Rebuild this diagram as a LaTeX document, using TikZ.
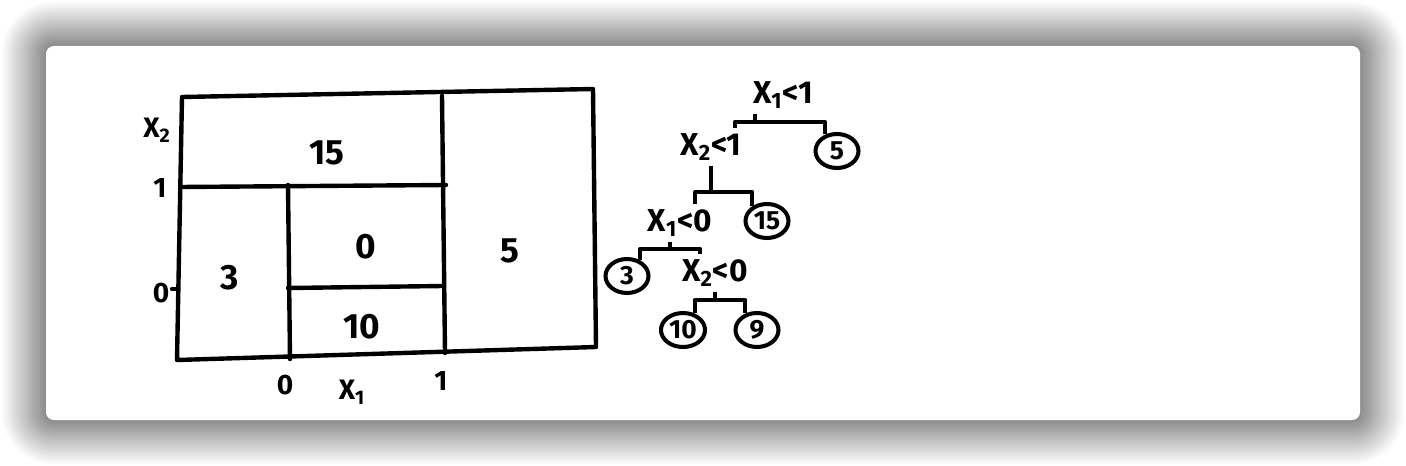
\documentclass[tikz,border=0pt]{standalone}
\usepackage{fontspec}
\setmainfont{Fira Sans}
\usepackage{tikz}
\usetikzlibrary{shapes.geometric, calc}

\begin{document}
\begin{tikzpicture}[
  x=0.02cm, y=-0.02cm,
  stroke/.style={line width=2.5pt, line cap=round, line join=round},
  region/.style={font=\bfseries\fontsize{20}{24}\selectfont},
  axis/.style={font=\bfseries\fontsize{16}{19}\selectfont},
  split/.style={inner sep=3pt, font=\bfseries\fontsize{18}{21}\selectfont},
  leaf/.style={ellipse, draw, line width=2.3pt, inner sep=1pt, minimum width=0.86cm, minimum height=0.68cm, font=\bfseries\fontsize{15}{17}\selectfont},
  link/.style={line width=2.3pt, line join=round}
]
  \useasboundingbox (0,0) rectangle (1406,466);
  % card with its shadow
  \fill[white] (0,0) rectangle (1406,466);
  \foreach \d in {46,44,...,0}{
    \pgfmathtruncatemacro\k{46-\d}
    \pgfmathsetmacro\r{4.5+0.567*\d}
    \fill[black!\k, rounded corners=\r pt] (46-\d,46-\d) rectangle (1360+\d,420+\d);
  }
  \fill[white, rounded corners=4.5pt] (46,46) rectangle (1360,420);

  % the partition of the plane
  \draw[stroke] (182,97) -- (593,89) -- (596,347) -- (177,360) -- cycle;
  \draw[stroke] (442,96) -- (445,353);
  \draw[stroke] (180,187) -- (446,185);
  \draw[stroke] (288,185) -- (290,359);
  \draw[stroke] (288,288) -- (443,286);
  \draw[stroke] (178,289) -- (172,289);

  \node[region] (r15) at (327,153) {15};
  \node[region] (r3) at (230,278) {3};
  \node[region] (r0) at (366,247) {0};
  \node[region] (r10) at (362,327) {10};
  \node[region] (r5) at (510,251) {5};

  \node[axis] (ax2) at (157,130) {X\textsubscript{2}};
  \node[axis] (ay1) at (160,188) {1};
  \node[axis] (ay0) at (161,293) {0};
  \node[axis] (ax0) at (285,385) {0};
  \node[axis] (ax1) at (352,392) {X\textsubscript{1}};
  \node[axis] (ax3) at (441,381) {1};

  % the tree
  \node[split] (s1) at (783,95) {X\textsubscript{1}<1};
  \node[split] (s2) at (711,147) {X\textsubscript{2}<1};
  \node[leaf] (l5) at (837,151) {5};
  \node[split] (s3) at (680,223) {X\textsubscript{1}<0};
  \node[leaf] (l15) at (767,221) {15};
  \node[leaf] (l3) at (627,276) {3};
  \node[split] (s4) at (715,273) {X\textsubscript{2}<0};
  \node[leaf] (l10) at (683,330) {10};
  \node[leaf] (l9) at (757,330) {9};

  \draw[link] ($(s1.south)+(-28,0)$) -- ++(0,8) -| ($(s2.north)+(24,0)$);
  \draw[link] ($(s1.south)+(-28,0)$) -- ++(0,8) -| (l5.125);
  \draw[link] (s2.south) -- ++(0,26) -| ($(s3.north)+(15,0)$);
  \draw[link] (s2.south) -- ++(0,26) -| (l15.135);
  \draw[link] ($(s3.south)+(-10,0)$) -- ++(0,7) -| (l3.50);
  \draw[link] ($(s3.south)+(-10,0)$) -- ++(0,7) -| ($(s4.north)+(-15,0)$);
  \draw[link] (s4.south) -- ++(0,8) -| (l10.55);
  \draw[link] (s4.south) -- ++(0,8) -| (l9.125);
\end{tikzpicture}
\end{document}
